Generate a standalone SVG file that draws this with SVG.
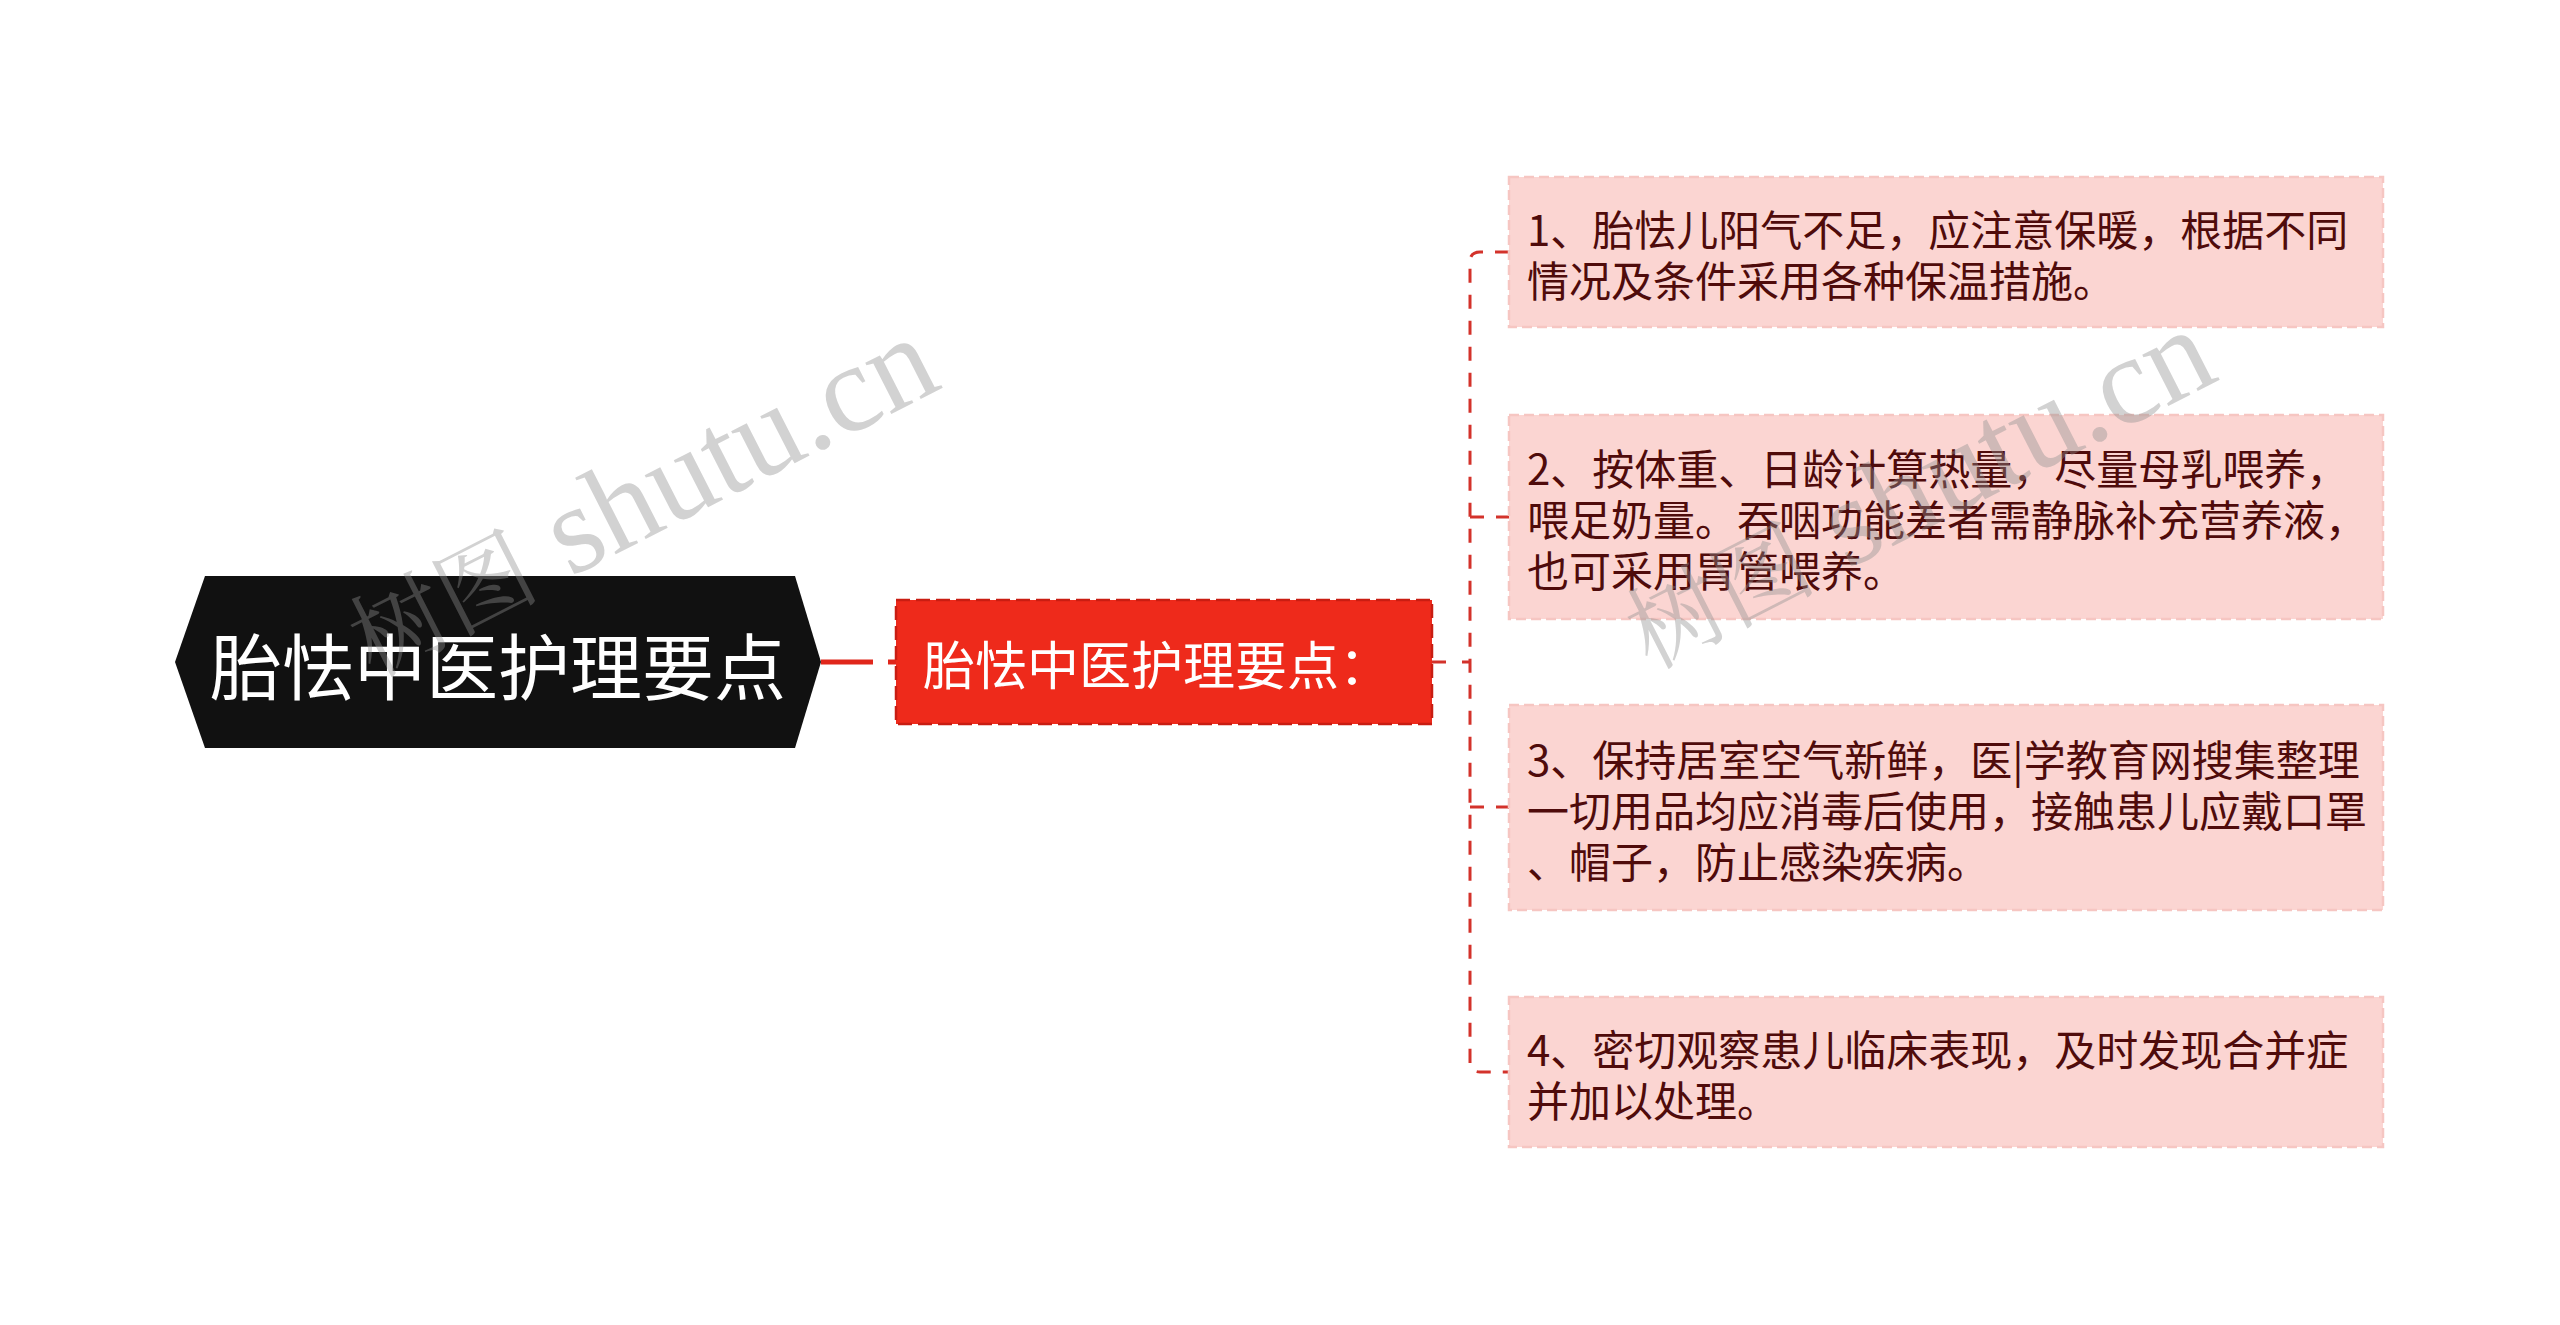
<svg xmlns="http://www.w3.org/2000/svg" width="2560" height="1325" viewBox="0 0 2560 1325">
<style>
.cjk{font-family:"Noto Sans CJK SC","Noto Sans",sans-serif;}
.box{fill:#FBD5D2;stroke:#F6C6C2;stroke-width:2.5;stroke-dasharray:10,5;}
.btxt{fill:#4F0B0B;font-size:42px;}
.dash{fill:none;stroke:#D3322B;stroke-width:3;stroke-dasharray:14,12;}
.wm{font-family:"Liberation Serif","Noto Serif CJK SC","Noto Sans CJK SC",serif;font-size:125px;fill:#8f8f8f;fill-opacity:0.4;}
.wmc{font-size:95px;}
</style>
<rect width="2560" height="1325" fill="#ffffff"/>
<g id="connectors">
<path d="M821,662 H873" stroke="#E0261B" stroke-width="5" fill="none"/>
<path d="M888,662 H897" stroke="#E0261B" stroke-width="5" fill="none"/>
<path d="M1432,662 H1446 M1462,662 H1470" fill="none" stroke="#D3322B" stroke-width="3"/>
<path class="dash" d="M1509,252 H1480 Q1470,252 1470,262 V1062 Q1470,1072 1480,1072 H1509"/>
<path class="dash" d="M1470,517 H1509"/>
<path class="dash" d="M1470,807 H1509"/>
</g>
<g id="root">
<polygon points="175,662 205,576 795,576 821,662 795,748 205,748" fill="#111111"/>
<text class="cjk" x="498" y="662" font-size="72" fill="#ffffff" text-anchor="middle" dominant-baseline="central">胎怯中医护理要点</text>
</g>
<g id="sub">
<rect x="896" y="600" width="536" height="124" fill="#EE2A1B" stroke="#C91D12" stroke-width="2.5" stroke-dasharray="14,6"/>
<text class="cjk" x="923" y="662" font-size="52" fill="#ffffff" dominant-baseline="central">胎怯中医护理要点：</text>
</g>
<g id="item1">
<rect class="box" x="1509" y="177" width="874" height="150"/>
<text class="cjk btxt" dominant-baseline="central"><tspan x="1527" y="226.5">1、胎怯儿阳气不足，应注意保暖，根据不同</tspan><tspan x="1527" y="277.5">情况及条件采用各种保温措施。</tspan></text>
</g>
<g id="item2">
<rect class="box" x="1509" y="415" width="874" height="204"/>
<text class="cjk btxt" dominant-baseline="central"><tspan x="1527" y="466">2、按体重、日龄计算热量，尽量母乳喂养，</tspan><tspan x="1527" y="517">喂足奶量。吞咽功能差者需静脉补充营养液，</tspan><tspan x="1527" y="568">也可采用胃管喂养。</tspan></text>
</g>
<g id="item3">
<rect class="box" x="1509" y="705" width="874" height="205"/>
<text class="cjk btxt" dominant-baseline="central"><tspan x="1527" y="756.5">3、保持居室空气新鲜，医|学教育网搜集整理</tspan><tspan x="1527" y="807.5">一切用品均应消毒后使用，接触患儿应戴口罩</tspan><tspan x="1527" y="858.5">、帽子，防止感染疾病。</tspan></text>
</g>
<g id="item4">
<rect class="box" x="1509" y="997" width="874" height="150"/>
<text class="cjk btxt" dominant-baseline="central"><tspan x="1527" y="1046.5">4、密切观察患儿临床表现，及时发现合并症</tspan><tspan x="1527" y="1097.5">并加以处理。</tspan></text>
</g>
<g id="watermark">
<text class="wm" transform="translate(373,678) rotate(-27)"><tspan class="wmc">树图</tspan> shutu.cn</text>
<text class="wm" transform="translate(1650,670) rotate(-27)"><tspan class="wmc">树图</tspan> shutu.cn</text>
</g>
</svg>
